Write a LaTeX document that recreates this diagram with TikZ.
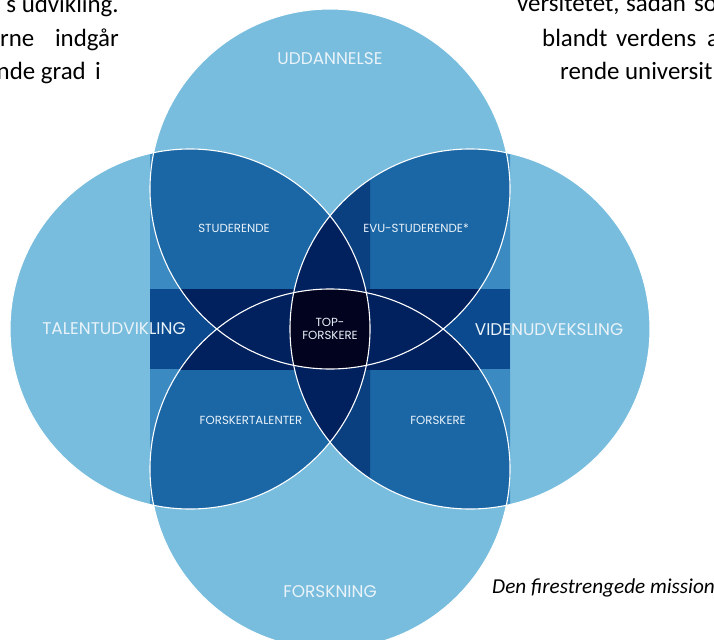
\documentclass[tikz,border=0pt]{standalone}
\usepackage{fontspec}
\setmainfont{Carlito}
\newfontfamily\lab{Poppins}
\definecolor{cL}{HTML}{78BDDE}
\definecolor{cM}{HTML}{3B8BC2}
\definecolor{cD}{HTML}{1B66A5}
\definecolor{cS}{HTML}{0A3F80}
\definecolor{cB}{HTML}{0B4A8E}
\definecolor{cN}{HTML}{00215E}
\definecolor{cK}{HTML}{02031F}
\definecolor{labc}{HTML}{EAF3F9}
\def\cT{(330,189) circle[radius=180bp]}
\def\cB{(330,469) circle[radius=180bp]}
\def\cLe{(190,329) circle[radius=180bp]}
\def\cRi{(470,329) circle[radius=180bp]}
\def\sq{(150,149) rectangle (510,509)}
\tikzset{
  biglab/.style={font=\lab\fontsize{17}{20}\selectfont, text=labc, inner sep=0pt},
  smalllab/.style={font=\lab\fontsize{11.8}{13.5}\selectfont, text=labc, inner sep=0pt, align=center},
  bodytext/.style={font=\fontsize{25}{30}\selectfont, text=black, inner sep=0pt},
  captext/.style={font=\itshape\fontsize{21.3}{25}\selectfont, text=black, inner sep=0pt},
  ring/.style={draw=white, line width=1.1bp}
}
\begin{document}
\begin{tikzpicture}[x=1bp,y=-1bp]
\useasboundingbox (0,0) rectangle (714,640);
\clip (0,0) rectangle (714,640);
% base circles
\fill[cL] \cT; \fill[cL] \cB; \fill[cL] \cLe; \fill[cL] \cRi;
% left/right circles inside the square
\begin{scope}\clip \sq; \fill[cM] \cLe; \fill[cM] \cRi; \end{scope}
% two-circle lenses
\begin{scope}\clip \cLe; \fill[cD] \cT; \fill[cD] \cB; \end{scope}
\begin{scope}\clip \cRi; \fill[cD] \cT; \fill[cD] \cB; \end{scope}
% darker strip right of centre
\begin{scope}\clip (330,149) rectangle (370,509); \clip \cRi; \fill[cS] \cT; \fill[cS] \cB; \end{scope}
% horizontal band
\fill[cB] (150,289) rectangle (510,369);
\begin{scope}\clip (150,289) rectangle (510,369); \fill[cN] \cT; \fill[cN] \cB; \end{scope}
% central lenses
\begin{scope}\clip \cLe; \fill[cN] \cRi; \end{scope}
\begin{scope}\clip \cT; \fill[cN] \cB; \end{scope}
% centre
\begin{scope}\clip \cLe; \clip \cRi; \clip \cT; \fill[cK] \cB; \end{scope}
% outlines
\draw[ring] \cT; \draw[ring] \cB; \draw[ring] \cLe; \draw[ring] \cRi;
% labels
\node[biglab] (udd) at (330,59) {UDDANNELSE};
\node[biglab] (tal) at (114,329) {TALENTUDVIKLING};
\node[biglab] (vid) at (549,330) {VIDENUDVEKSLING};
\node[biglab] (fors) at (330,592) {FORSKNING};
\node[smalllab] (stud) at (234,228) {STUDERENDE};
\node[smalllab] (evu) at (416,228) {EVU-STUDERENDE*};
\node[smalllab] (ftal) at (251,420) {FORSKERTALENTER};
\node[smalllab] (fsk) at (438,420) {FORSKERE};
\node[smalllab] (top) at (330,329) {TOP-\\FORSKERE};
% surrounding body text
\node[bodytext, anchor=base east] (l1) at (119,13) {s udvikling.};
\node[bodytext, anchor=base west] (l2a) at (0,46.5) {rne};
\node[bodytext, anchor=base east] (l2b) at (119,46.5) {indgår};
\node[bodytext, anchor=base east] (l3a) at (86,80) {nde grad};
\node[bodytext, anchor=base east] (l3b) at (101,80) {i};
\node[bodytext, anchor=base west] (r1a) at (517,12) {versitetet,};
\node[bodytext, anchor=base west] (r1b) at (626,12) {sådan};
\node[bodytext, anchor=base west] (r1c) at (694,12) {so};
\node[bodytext, anchor=base west] (r2a) at (542,46.5) {blandt};
\node[bodytext, anchor=base west] (r2b) at (616,46.5) {verdens};
\node[bodytext, anchor=base west] (r2c) at (707,46.5) {a};
\node[bodytext, anchor=base west] (r3) at (560,80) {rende universit};
\node[captext, anchor=base west] (cap) at (492,593) {Den firestrengede mission};
\end{tikzpicture}
\end{document}
